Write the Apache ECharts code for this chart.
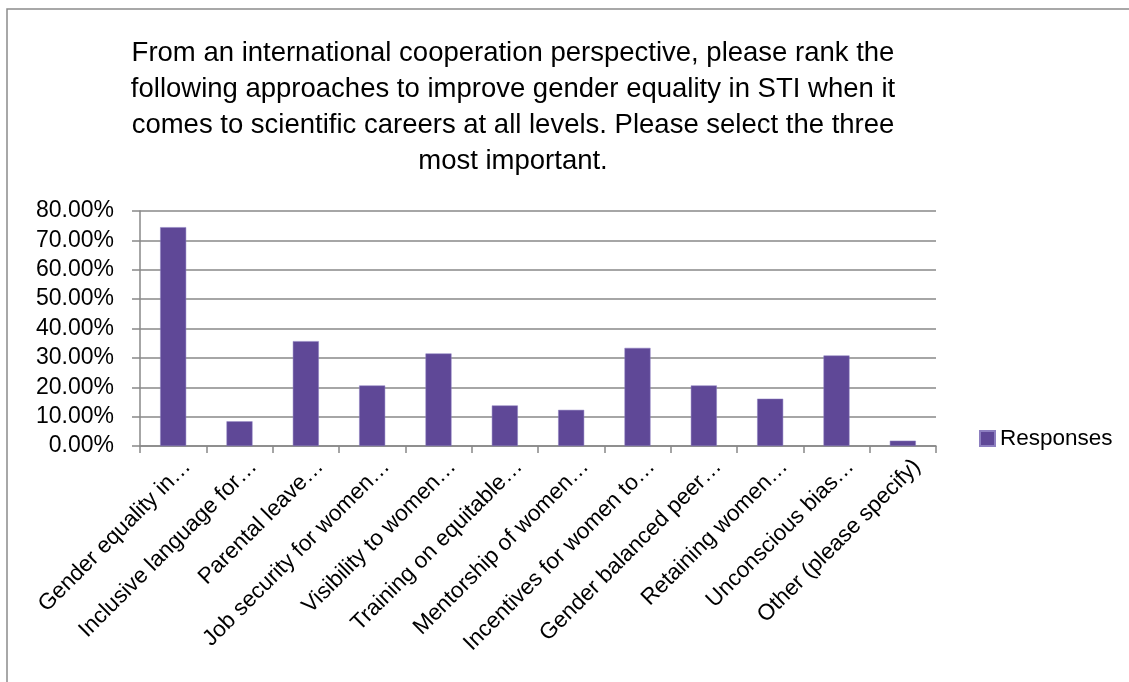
<!DOCTYPE html>
<html>
<head>
<meta charset="utf-8">
<script src="https://cdn.jsdelivr.net/npm/echarts@6/dist/echarts.min.js"></script>
<style>
html,body{margin:0;padding:0;background:#fff;}
#c{width:1129px;height:682px;}
</style>
</head>
<body>
<div id="c"></div>
<script>
const titleText = "From an international cooperation perspective, please rank the\nfollowing approaches to improve gender equality in STI when it\ncomes to scientific careers at all levels. Please select the three\nmost important.";
const categories = ["Gender equality in…","Inclusive language for…","Parental leave…","Job security for women…","Visibility to women…","Training on equitable…","Mentorship of women…","Incentives for women to…","Gender balanced peer…","Retaining women…","Unconscious bias…","Other (please specify)"];
const responses = [74.5, 8.4, 35.7, 20.6, 31.5, 13.8, 12.3, 33.4, 20.6, 16.1, 30.8, 1.8];
const seriesName = "Responses";

const chart = echarts.init(document.getElementById('c'), null, {renderer:'canvas'});
chart.setOption({
  animation:false,
  backgroundColor:'#fff',
  graphic:[{type:'rect',shape:{x:7,y:9,width:1140,height:700},style:{fill:'none',stroke:'#8c8c8c',lineWidth:1.5},silent:true}],
  title:{text:titleText,left:513,textAlign:'center',top:35,padding:0,textStyle:{fontFamily:'Liberation Sans',fontSize:27.5,fontWeight:'normal',color:'#000',lineHeight:36}},
  legend:{data:[seriesName],left:979,top:427,padding:0,itemWidth:15,itemHeight:15,itemGap:6,icon:'rect',textStyle:{fontFamily:'Liberation Sans',fontSize:22.5,color:'#000'}},
  grid:{left:140,right:193,top:211,bottom:236,containLabel:false},
  xAxis:{type:'category',data:categories,boundaryGap:true,
    axisLine:{lineStyle:{color:'#888',width:1.5}},
    axisTick:{show:true,length:7,lineStyle:{color:'#888',width:1.5}},
    axisLabel:{rotate:45,interval:0,fontFamily:'Liberation Sans',fontSize:22.5,color:'#000',margin:3,verticalAlign:'top',lineHeight:40}},
  yAxis:{type:'value',min:0,max:80,interval:10,
    axisLine:{show:true,lineStyle:{color:'#888',width:1.5}},
    axisTick:{show:true,length:8,lineStyle:{color:'#888',width:1.5}},
    splitLine:{lineStyle:{color:'#888',width:1.5}},
    axisLabel:{formatter:v=>v.toFixed(2)+'%',fontFamily:'Liberation Sans',fontSize:23,color:'#000',margin:26}},
  series:[{name:seriesName,type:'bar',data:responses,barWidth:26,itemStyle:{color:'#5f4897',borderColor:'#8d7fc0',borderWidth:0.5}}]
});
</script>
</body>
</html>
